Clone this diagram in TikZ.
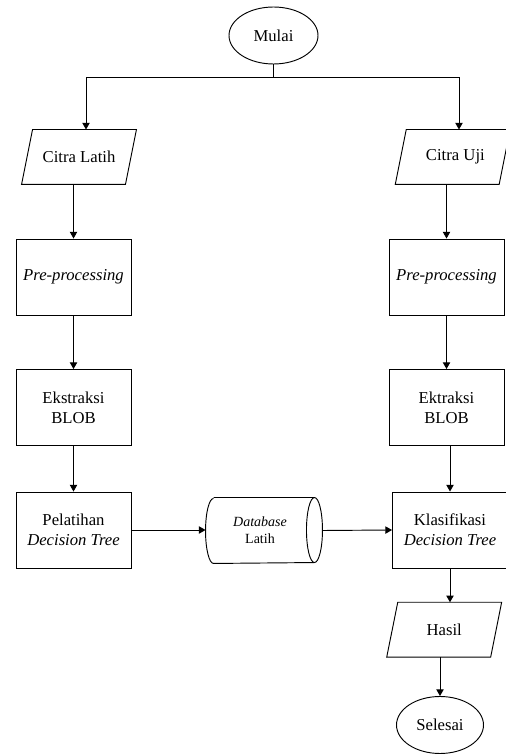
\documentclass[tikz,border=0pt]{standalone}
\usepackage{fontspec}
\setmainfont{Liberation Serif}
\usetikzlibrary{arrows.meta,shapes.geometric}
\begin{document}
\begin{tikzpicture}[x=0.75pt,y=0.75pt,
  font=\fontsize{12.5}{15}\selectfont, line width=0.7pt,
  box/.style={draw, minimum width=86.25pt, minimum height=57pt, inner sep=0pt, align=center},
  para/.style={minimum width=85.5pt, minimum height=40.5pt, inner sep=0pt, align=center},
  term/.style={draw, ellipse, minimum width=66.75pt, minimum height=42.75pt, inner sep=0pt},
  arr/.style={-{Triangle[length=5pt,width=5.5pt]}}]
\useasboundingbox (0,0) rectangle (506,754);

\node[term] (mulai) at (273.5,718.5) {Mulai};

\node[para] (latih) at (79,597) {Citra Latih};
\draw ([xshift=8.25pt]latih.north west) -- (latih.north east) -- ([xshift=-8.25pt]latih.south east) -- (latih.south west) -- cycle;
\node[para] (uji) at (452.7,597) {\hspace*{4pt}Citra Uji};
\draw ([xshift=8.25pt]uji.north west) -- (uji.north east) -- ([xshift=-8.25pt]uji.south east) -- (uji.south west) -- cycle;

\node[box] (pre1) at (73.5,477) {\itshape Pre-processing};
\node[box] (pre2) at (446.5,477) {\itshape Pre-processing};
\node[box] (eks1) at (73.5,346.5) {Ekstraksi\\BLOB};
\node[box] (eks2) at (446.5,346.5) {Ektraksi\\BLOB};
\node[box] (pel) at (73.5,224) {Pelatihan\\\textit{Decision Tree}};
\node[box] (kla) at (450,224) {Klasifikasi\\\textit{Decision Tree}};

\node[inner sep=0pt, minimum width=81pt, minimum height=48.75pt, align=center,
  font=\fontsize{10.5}{12.5}\selectfont] (db) at (260,223.5) {\textit{Database}\\Latih};
\draw ([xshift=6pt]db.north west) -- (db.north east)
  arc[start angle=90,end angle=-90,x radius=8,y radius=32.5]
  -- ([xshift=6pt]db.south west)
  arc[start angle=270,end angle=90,x radius=8,y radius=32.5];
\draw (db.north east) arc[start angle=90,end angle=270,x radius=8,y radius=32.5];

\node[para] (hasil) at (444.2,124.3) {Hasil};
\draw ([xshift=8.25pt]hasil.north west) -- (hasil.north east) -- ([xshift=-8.25pt]hasil.south east) -- (hasil.south west) -- cycle;

\node[term, minimum width=65.25pt] (selesai) at (440,29) {Selesai};

\coordinate (j) at (273.5,677);
\draw (mulai.south) -- (j);
\draw[arr] (j) -| ([xshift=5.25pt]latih.north);
\draw[arr] (j) -| ([xshift=4.7pt]uji.north);
\draw[arr] (pre1.north |- latih.south) -- (pre1.north);
\draw[arr] (pre2.north |- uji.south) -- (pre2.north);
\draw[arr] (pre1) -- (eks1);
\draw[arr] (pre2) -- (eks2);
\draw[arr] (eks1) -- (pel);
\draw[arr] (kla.north |- eks2.south) -- (kla.north);
\draw[arr] (pel.east) -- (pel.east -| db.west);
\draw[arr] ([xshift=6pt]db.east) -- (kla.west);
\draw[arr] (kla.south) -- (kla.south |- hasil.north);
\draw[arr] (selesai.north |- hasil.south) -- (selesai.north);
\end{tikzpicture}
\end{document}
